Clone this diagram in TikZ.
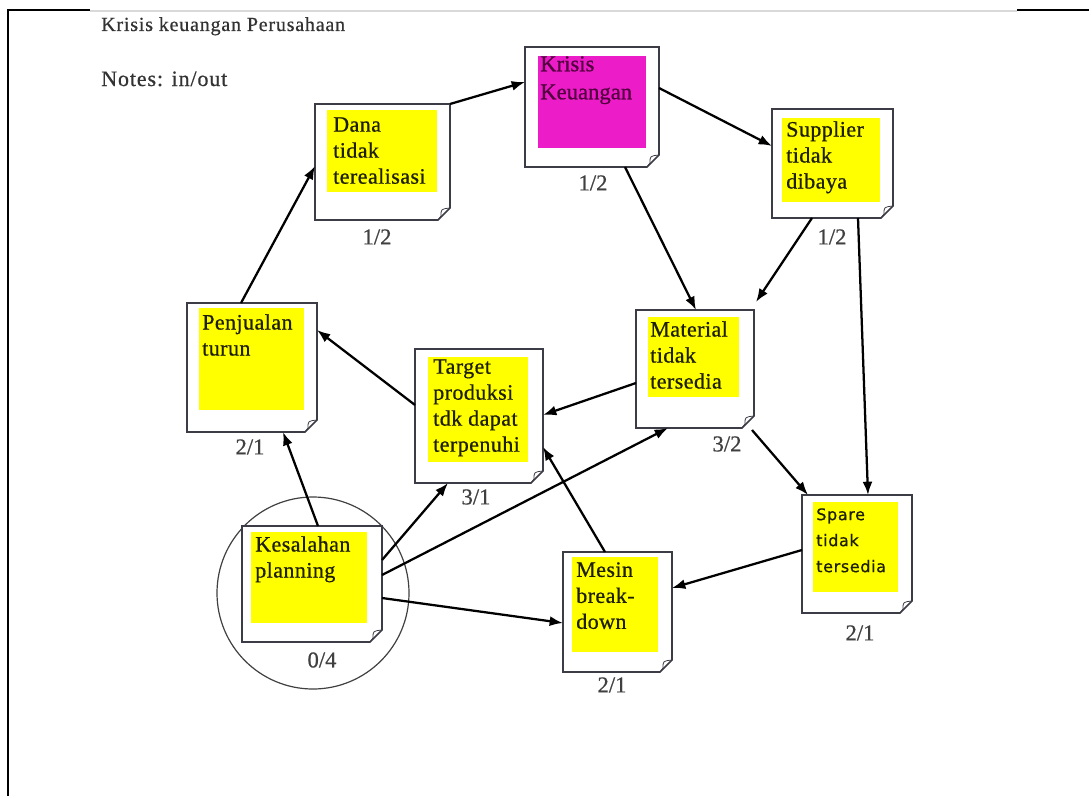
\documentclass[tikz,border=0pt]{standalone}
\usepackage{fontspec}
\setmainfont{Liberation Serif}[FakeBold=0.6]
\newfontfamily\sparefont{DejaVu Sans}[LetterSpace=4,FakeBold=0.6]
\usetikzlibrary{calc,arrows.meta}
\definecolor{kmag}{RGB}{236,28,200}
\definecolor{kmagtext}{RGB}{80,0,60}
\definecolor{boxgray}{RGB}{60,60,70}
\definecolor{noteyellow}{RGB}{255,255,0}
\definecolor{notetxt}{RGB}{30,30,0}
\tikzset{
  outbox/.style={inner sep=0pt, outer sep=0pt, draw=none, anchor=north west, rectangle},
  boxline/.style={draw=boxgray, line width=1.3pt, fill=white, line join=miter},
  curl/.style={draw=boxgray, line width=0.6pt},
  notetext/.style={anchor=north west, inner sep=0pt, align=left, text=notetxt, font=\fontsize{16.5pt}{19.5pt}\selectfont\addfontfeature{LetterSpace=2}},
  ratio/.style={font=\fontsize{17pt}{18pt}\selectfont, inner sep=0pt, text=black!75},
  conn/.style={line width=1.7pt, -{Latex[length=10pt,width=7.5pt]}},
}
\newcommand\notebx[5]{%
  \node[outbox, minimum width={#4*0.75pt}, minimum height={#5*0.75pt}] (#1) at (#2,#3) {};
  \draw[boxline] (#1.north west) -- (#1.north east) -- ($(#1.south east)+(0,-12)$) -- ($(#1.south east)+(-12,0)$) -- (#1.south west) -- cycle;
  \draw[curl] ($(#1.south east)+(0,-12)$) .. controls ($(#1.south east)+(-9,-11)$) .. ($(#1.south east)+(-9,-4)$) -- ($(#1.south east)+(-12,0)$);
}
\begin{document}
\begin{tikzpicture}[x=0.75pt,y=-0.75pt]
\useasboundingbox (0,0) rectangle (1089,796);
\fill[white] (0,0) rectangle (1089,796);
% frame
\draw[gray!30, line width=2pt] (90,11) -- (1017,11);
\draw[line width=1pt] (8,796) -- (8,10) -- (90,10);
\draw[line width=1pt] (1017,10) -- (1089,10);
% title
\node[anchor=base west, inner sep=0pt, text=black!80, font=\fontsize{15pt}{16pt}\selectfont\addfontfeature{LetterSpace=4}] (title) at (101,31) {Krisis keuangan Perusahaan};
\node[anchor=base west, inner sep=0pt, text=black!80, font=\fontsize{16.5pt}{18pt}\selectfont\addfontfeature{LetterSpace=4}] (notes) at (101,86) {Notes: in/out};
% circle
\node[draw=black!75, line width=0.9pt, circle, minimum size={192*0.75pt}, inner sep=0pt] (circ) at (313,593) {};
% boxes
\notebx{dana}{315}{104}{135}{116}
\fill[noteyellow] (327,110) rectangle (437,192);
\node[notetext] (danaT) at (333,117) {Dana\\tidak\\terealisasi};
\node[ratio] (danaR) at (377,237) {1/2};

\notebx{kris}{525}{47}{134}{120}
\fill[kmag] (538,56) rectangle (646,148);
\node[notetext, text=kmagtext, font=\fontsize{17pt}{21pt}\selectfont] (krisT) at (540,56) {Krisis\\Keuangan};
\node[ratio] (krisR) at (593,183) {1/2};

\notebx{sup}{772}{109}{121}{109}
\fill[noteyellow] (782,118) rectangle (880,202);
\node[notetext] (supT) at (786,121) {Supplier\\tidak\\dibaya};
\node[ratio] (supR) at (832,237) {1/2};

\notebx{pen}{187}{303}{130}{129}
\fill[noteyellow] (199,308) rectangle (304,410);
\node[notetext] (penT) at (202,314) {Penjualan\\turun};
\node[ratio] (penR) at (250,447) {2/1};

\notebx{tgt}{415}{349}{128}{134}
\fill[noteyellow] (428,357) rectangle (528,462);
\node[notetext] (tgtT) at (433,359) {Target\\produksi\\tdk dapat\\terpenuhi};
\node[ratio] (tgtR) at (476,497) {3/1};

\notebx{mat}{636}{310}{118}{118}
\fill[noteyellow] (648,317) rectangle (739,397);
\node[notetext] (matT) at (650,321) {Material\\tidak\\tersedia};
\node[ratio] (matR) at (727,444) {3/2};

\notebx{spr}{802}{495}{110}{118}
\fill[noteyellow] (813,502) rectangle (898,592);
\node[anchor=north west, inner sep=0pt, align=left, text=notetxt, font=\sparefont\fontsize{12pt}{19.5pt}\selectfont] (sprT) at (816,508) {Spare\\tidak\\tersedia};
\node[ratio] (sprR) at (860,633) {2/1};

\notebx{kes}{242}{526}{140}{116}
\fill[noteyellow] (251,532) rectangle (367,623);
\node[notetext] (kesT) at (255,536) {Kesalahan\\planning};
\node[ratio] (kesR) at (322,660) {0/4};

\notebx{mes}{563}{552}{109}{120}
\fill[noteyellow] (572,557) rectangle (658,652);
\node[notetext] (mesT) at (576,562) {Mesin\\break-\\down};
\node[ratio] (mesR) at (612,685) {2/1};

% connectors
\draw[conn] ($(pen.north west)+(54,0)$) -- ($(dana.north west)+(0,62)$);
\draw[conn] (dana.north east) -- ($(kris.north west)+(0,35)$);
\draw[conn] ($(kris.north east)+(0,41)$) -- ($(sup.north west)+(0,37)$);
\draw[conn] ($(kris.south west)+(100,0)$) -- ($(mat.north west)+(60,0)$);
\draw[conn] ($(sup.south west)+(40,0)$) -- ($(mat.north east)+(2,-8)$);
\draw[conn] ($(sup.south west)+(86,0)$) -- ($(spr.north west)+(66,0)$);
\draw[conn] ($(mat.north west)+(0,73)$) -- ($(tgt.north east)+(0,66)$);
\draw[conn] ($(mat.south east)+(-2,2)$) -- ($(spr.north west)+(6,0)$);
\draw[conn] ($(tgt.north west)+(0,56)$) -- ($(pen.north east)+(0,27)$);
\draw[conn] ($(kes.north west)+(76,0)$) -- ($(pen.south west)+(96,0)$);
\draw[conn] ($(kes.north east)+(0,34)$) -- ($(tgt.south west)+(33,0)$);
\draw[conn] ($(kes.north east)+(0,49)$) -- ($(mat.south west)+(32,0)$);
\draw[conn] ($(kes.north east)+(0,72)$) -- ($(mes.north west)+(0,71)$);
\draw[conn] ($(mes.north west)+(42,0)$) -- ($(tgt.north east)+(0,98)$);
\draw[conn] ($(spr.north west)+(0,55)$) -- ($(mes.north east)+(0,36)$);
\end{tikzpicture}
\end{document}
